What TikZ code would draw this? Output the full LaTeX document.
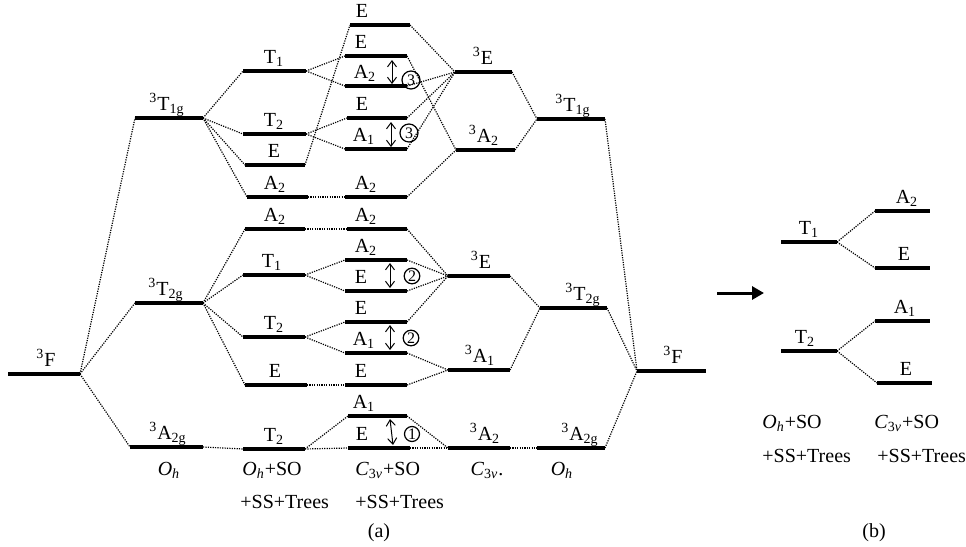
\documentclass[tikz,border=0pt]{standalone}
\usepackage{fontspec}
\setmainfont{Liberation Serif}
\usetikzlibrary{arrows.meta,calc}

% one energy level: name, left x, right x, y, label x, label
\newcommand{\lvl}[6]{%
  \draw[bar] (#2,#4) coordinate (#1-l) -- (#3,#4) coordinate (#1-r);
  \node[lab] (#1) at ({#5},{#4-8}) {#6};}

\begin{document}
\begin{tikzpicture}[x=0.5pt,y=-0.5pt,
    bar/.style={line width=1.6pt},
    conn/.style={line width=0.6pt,dash pattern=on 0.6pt off 0.6pt},
    lab/.style={anchor=base,inner sep=0pt,font=\fontsize{10}{12}\selectfont},
    split/.style={line width=0.5pt,{Straight Barb[length=3pt,width=4.5pt]}-{Straight Barb[length=3pt,width=4.5pt]}},
    num/.style={circle,draw,line width=0.6pt,inner sep=0pt,minimum size=#1,font=\fontsize{8}{8}\selectfont},
    bigarrow/.style={line width=1.5pt,-{Triangle[length=6pt,width=6.5pt]}}]

  \useasboundingbox (0,0) rectangle (966,547);

  % (a) free ion and O_h
  \lvl{f1}{8}{80}{374}{46}{\textsuperscript{3}F}
  \lvl{t1g}{135}{203}{118}{167}{\textsuperscript{3}T\textsubscript{1g}}
  \lvl{t2g}{135}{203}{303}{166}{\textsuperscript{3}T\textsubscript{2g}}
  \lvl{a2g}{130}{203}{447}{168}{\textsuperscript{3}A\textsubscript{2g}}

  % O_h + SO + SS + Trees
  \lvl{b1}{243}{306}{71}{274}{T\textsubscript{1}}
  \lvl{b2}{243}{306}{134}{274}{T\textsubscript{2}}
  \lvl{b3}{245}{305}{165}{274}{E}
  \lvl{b4}{247}{308}{197}{275}{A\textsubscript{2}}
  \lvl{b5}{245}{305}{229}{275}{A\textsubscript{2}}
  \lvl{b6}{243}{305}{275}{272}{T\textsubscript{1}}
  \lvl{b7}{243}{305}{337}{274}{T\textsubscript{2}}
  \lvl{b8}{245}{307}{385}{275}{E}
  \lvl{b9}{243}{305}{449}{274}{T\textsubscript{2}}

  % C_3v + SO + SS + Trees
  \lvl{c1}{350}{410}{25}{362}{E}
  \lvl{c2}{345}{407}{56}{361}{E}
  \lvl{c3}{345}{407}{86}{365}{A\textsubscript{2}}
  \lvl{c4}{347}{407}{118}{362}{E}
  \lvl{c5}{345}{407}{149}{364}{A\textsubscript{1}}
  \lvl{c6}{345}{407}{197}{366}{A\textsubscript{2}}
  \lvl{c7}{347}{407}{229}{366}{A\textsubscript{2}}
  \lvl{c8}{345}{407}{260}{366}{A\textsubscript{2}}
  \lvl{c9}{345}{407}{291}{361}{E}
  \lvl{c10}{345}{407}{322}{361}{E}
  \lvl{c11}{345}{407}{353}{364}{A\textsubscript{1}}
  \lvl{c12}{345}{407}{385}{361}{E}
  \lvl{c13}{348}{407}{416}{364}{A\textsubscript{1}}
  \lvl{c14}{348}{410}{448}{362}{E}

  % C_3v
  \lvl{d1}{455}{512}{72}{483}{\textsuperscript{3}E}
  \lvl{d2}{456}{515}{150}{484}{\textsuperscript{3}A\textsubscript{2}}
  \lvl{d3}{448}{510}{276}{481}{\textsuperscript{3}E}
  \lvl{d4}{448}{510}{370}{480}{\textsuperscript{3}A\textsubscript{1}}
  \lvl{d5}{448}{510}{448}{485}{\textsuperscript{3}A\textsubscript{2}}

  % O_h and free ion again
  \lvl{e1}{537}{605}{119}{573}{\textsuperscript{3}T\textsubscript{1g}}
  \lvl{e2}{540}{607}{308}{583}{\textsuperscript{3}T\textsubscript{2g}}
  \lvl{e3}{537}{605}{448}{580}{\textsuperscript{3}A\textsubscript{2g}}
  \lvl{f2}{637}{706}{371}{673}{\textsuperscript{3}F}

  \draw[conn] (f1-r) -- (t1g-l);
  \draw[conn] (f1-r) -- (t2g-l);
  \draw[conn] (f1-r) -- (a2g-l);

  \draw[conn] (t1g-r) -- (b1-l);
  \draw[conn] (t1g-r) -- (b2-l);
  \draw[conn] (t1g-r) -- (b3-l);
  \draw[conn] (t1g-r) -- (b4-l);
  \draw[conn] (t2g-r) -- (b5-l);
  \draw[conn] (t2g-r) -- (b6-l);
  \draw[conn] (t2g-r) -- (b7-l);
  \draw[conn] (t2g-r) -- (b8-l);
  \draw[conn] (a2g-r) -- (b9-l);

  \draw[conn] (b1-r) -- (c2-l);
  \draw[conn] (b1-r) -- (c3-l);
  \draw[conn] (b2-r) -- (c4-l);
  \draw[conn] (b2-r) -- (c5-l);
  \draw[conn] (b3-r) -- (c1-l);
  \draw[conn] (b4-r) -- (c6-l);
  \draw[conn] (b5-r) -- (c7-l);
  \draw[conn] (b6-r) -- (c8-l);
  \draw[conn] (b6-r) -- (c9-l);
  \draw[conn] (b7-r) -- (c10-l);
  \draw[conn] (b7-r) -- (c11-l);
  \draw[conn] (b8-r) -- (c12-l);
  \draw[conn] (b9-r) -- (c13-l);
  \draw[conn] (b9-r) -- (c14-l);

  \draw[conn] (c1-r) -- (d1-l);
  \draw[conn] (c2-r) -- (d2-l);
  \draw[conn] (c3-r) -- (d1-l);
  \draw[conn] (c4-r) -- (d1-l);
  \draw[conn] (c5-r) -- (d1-l);
  \draw[conn] (c6-r) -- (d2-l);
  \draw[conn] (c7-r) -- (d3-l);
  \draw[conn] (c8-r) -- (d3-l);
  \draw[conn] (c9-r) -- (d3-l);
  \draw[conn] (c10-r) -- (d3-l);
  \draw[conn] (c11-r) -- (d4-l);
  \draw[conn] (c12-r) -- (d4-l);
  \draw[conn] (c13-r) -- (d5-l);
  \draw[conn] (c14-r) -- (d5-l);

  \draw[conn] (d1-r) -- (e1-l);
  \draw[conn] (d2-r) -- (e1-l);
  \draw[conn] (d3-r) -- (e2-l);
  \draw[conn] (d4-r) -- (e2-l);
  \draw[conn] (d5-r) -- (e3-l);

  \draw[conn] (e1-r) -- (f2-l);
  \draw[conn] (e2-r) -- (f2-l);
  \draw[conn] (e3-r) -- (f2-l);

  % splittings
  \draw[split] ($(c2-r)+(-15,4)$) -- ($(c3-r)+(-15,-2)$);
  \draw[split] ($(c4-r)+(-16,4)$) -- ($(c5-r)+(-16,-2)$);
  \draw[split] ($(c8-r)+(-17,3)$) -- ($(c9-r)+(-17,-3)$);
  \draw[split] ($(c10-r)+(-17,3)$) -- ($(c11-r)+(-17,-3)$);
  \draw[split] ($(c13-r)+(-17,3)$) -- ($(c14-r)+(-17,-3)$);
  \node[num=9pt] (n3a) at (411,80) {3};
  \node[num=9pt] (n3b) at (409,133) {3};
  \node[num=7.8pt] (n2a) at (412,276) {2};
  \node[num=7.8pt] (n2b) at (411,338) {2};
  \node[num=7.5pt] (n1) at (412,434) {1};

  \node[lab] (s1) at (169,475) {\textit{O}\textsubscript{\textit{h}}};
  \node[lab,anchor=base west] (s2) at (242,475) {\textit{O}\textsubscript{\textit{h}}+SO};
  \node[lab,anchor=base west] (s2b) at (240,508) {+SS+Trees};
  \node[lab,anchor=base west] (s3) at (355,475) {\textit{C}\textsubscript{3\textit{v}}+SO};
  \node[lab,anchor=base west] (s3b) at (355,508) {+SS+Trees};
  \node[lab] (s4) at (487,475) {\textit{C}\textsubscript{3\textit{v}}.};
  \node[lab] (s5) at (562,475) {\textit{O}\textsubscript{\textit{h}}};
  \node[lab] (capa) at (379,537) {(a)};

  % (b)
  \coordinate (arr-s) at (717,293);
  \coordinate (arr-e) at (764,293);
  \draw[bigarrow] (arr-s) -- (arr-e);

  \lvl{g1}{781}{837}{242}{809}{T\textsubscript{1}}
  \lvl{g2}{875}{930}{211}{907}{A\textsubscript{2}}
  \lvl{g3}{875}{930}{268}{904}{E}
  \lvl{g4}{781}{837}{351}{805}{T\textsubscript{2}}
  \lvl{g5}{875}{930}{321}{905}{A\textsubscript{1}}
  \lvl{g6}{877}{932}{383}{906}{E}

  \draw[conn] (g1-r) -- (g2-l);
  \draw[conn] (g1-r) -- (g3-l);
  \draw[conn] (g4-r) -- (g5-l);
  \draw[conn] (g4-r) -- (g6-l);

  \node[lab,anchor=base west] (t1) at (762,428) {\textit{O}\textsubscript{\textit{h}}+SO};
  \node[lab,anchor=base west] (t1b) at (762,462) {+SS+Trees};
  \node[lab,anchor=base west] (t2) at (874,428) {\textit{C}\textsubscript{3\textit{v}}+SO};
  \node[lab,anchor=base west] (t2b) at (877,462) {+SS+Trees};
  \node[lab] (capb) at (874,537) {(b)};
\end{tikzpicture}
\end{document}
